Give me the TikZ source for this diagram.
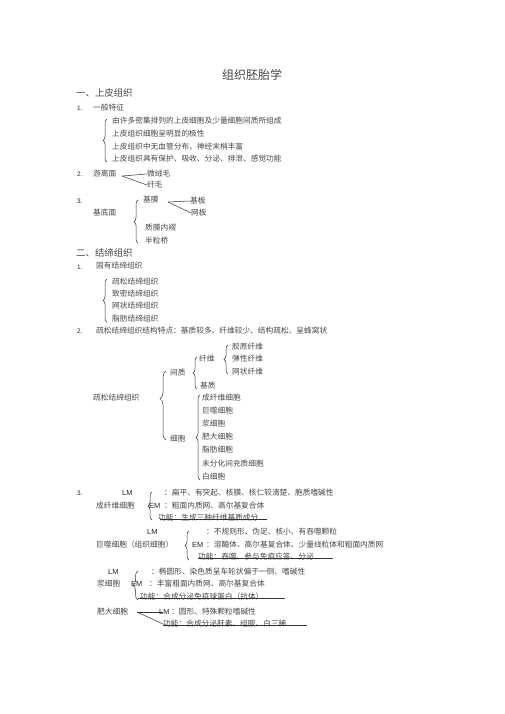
\documentclass[tikz,border=0pt]{standalone}
\usepackage{fontspec}
\setmainfont{Noto Sans CJK SC}
\newfontfamily\latfont{Liberation Sans}
\usetikzlibrary{calc,decorations.pathreplacing}

\tikzset{
	txt/.style={anchor=west, inner sep=0pt, text=black!72, font=\fontsize{7.7}{9}\selectfont},
	head/.style={txt, font=\fontsize{9.4}{11}\selectfont},
	num/.style={anchor=west, inner sep=0pt, text=black!85, font=\latfont\fontsize{6.5}{7}\selectfont},
	lmem/.style={anchor=west, inner sep=0pt, text=black!85, font=\latfont\fontsize{7.4}{8}\selectfont},
	curly/.style={decorate, decoration={brace, amplitude=4pt, aspect=#1}, line width=0.5pt, black!80},
	curly/.default=0.5,
	stroke/.style={line width=0.5pt, black!80}
}

\begin{document}
\begin{tikzpicture}[x=1pt, y=-1pt]
			%%%%% START %%%%%
			\useasboundingbox[fill=white] (0,0) rectangle (505,714);
			
			\node[txt, anchor=center, font=\fontsize{12}{14}\selectfont] (title) at (252,75) {组织胚胎学};
			
			% 一、上皮组织
			\node[head] (sec1) at (76,93) {一、上皮组织};
			\node[num] (n11) at (77,108) {1.};
			\node[txt] (gen) at (93,108) {一般特征};
			\node[txt] (gen1) at (112,121) {由许多密集排列的上皮细胞及少量细胞间质所组成};
			\node[txt] (gen2) at (112,134) {上皮组织细胞呈明显的极性};
			\node[txt] (gen3) at (112,147) {上皮组织中无血管分布，神经末梢丰富};
			\node[txt] (gen4) at (112,159) {上皮组织具有保护、吸收、分泌、排泄、感觉功能};
			\draw[curly] (107,162) -- (107,119);
			
			\node[num] (n12) at (77,174) {2.};
			\node[txt] (free) at (93,174) {游离面};
			\coordinate (freeC) at (122,176);
			\node[txt] (micro) at (147,174) {微绒毛};
			\node[txt] (cilia) at (147,185) {纤毛};
			\draw[stroke] (freeC) -- (micro.west);
			\draw[stroke] (freeC) -- (cilia.west);
			
			\node[num] (n13) at (77,201) {3.};
			\node[txt] (bm) at (143,200) {基膜};
			\coordinate (bmC) at (168,202);
			\node[txt] (bl) at (190,201) {基板};
			\node[txt] (rl) at (191,213) {网板};
			\draw[stroke] (bmC) -- (bl.west);
			\draw[stroke] (bmC) -- (rl.west);
			\node[txt] (base) at (93,213) {基底面};
			\node[txt] (fold) at (145,228) {质膜内褶};
			\node[txt] (hemi) at (145,241) {半粒桥};
			\draw[curly] (138,243) -- (138,200);
			
			% 二、结缔组织
			\node[head] (sec2) at (76,253) {二、结缔组织};
			\node[num] (n21) at (77,267) {1.};
			\node[txt] (prop) at (96,266) {固有结缔组织};
			\node[txt] (prop1) at (112,282) {疏松结缔组织};
			\node[txt] (prop2) at (112,294) {致密结缔组织};
			\node[txt] (prop3) at (112,306) {网状结缔组织};
			\node[txt] (prop4) at (112,319) {脂肪结缔组织};
			\draw[curly] (107,322) -- (107,279);
			
			\node[num] (n22) at (77,331) {2.};
			\node[txt] (loose) at (96,331) {疏松结缔组织结构特点：基质较多、纤维较少、结构疏松、呈蜂窝状};
			
			\node[txt] (lct) at (93,398) {疏松结缔组织};
			\node[txt] (matrix) at (170,373) {间质};
			\node[txt] (cells) at (170,439) {细胞};
			\draw[curly=0.6, decoration={amplitude=6pt}] (166,440) -- (166,371);
			
			\node[txt] (fiber) at (199,359) {纤维};
			\node[txt] (ground) at (200,386) {基质};
			\draw[curly] (197,389) -- (197,357);
			
			\node[txt] (coll) at (232,347) {胶原纤维};
			\node[txt] (elas) at (232,359) {弹性纤维};
			\node[txt] (reti) at (232,372) {网状纤维};
			\draw[curly] (228,374) -- (228,345);
			
			\node[txt] (c1) at (202,398) {成纤维细胞};
			\node[txt] (c2) at (202,411) {巨噬细胞};
			\node[txt] (c3) at (202,424) {浆细胞};
			\node[txt] (c4) at (202,437) {肥大细胞};
			\node[txt] (c5) at (202,450) {脂肪细胞};
			\node[txt] (c6) at (202,464) {未分化间充质细胞};
			\node[txt] (c7) at (202,477) {白细胞};
			\draw[curly] (200,480) -- (200,395);
			
			% 3. 细胞
			\node[num] (n23) at (77,493) {3.};
			\node[lmem] (fLM) at (122,493) {LM};
			\node[txt] (fLMt) at (164,493) {：扁平、有突起、核膜、核仁较清楚、胞质嗜碱性};
			\node[txt] (fib) at (96,506) {成纤维细胞};
			\node[lmem] (fEM) at (149,506) {EM};
			\node[txt] (fEMt) at (164,506) {：粗面内质网、高尔基复合体};
			\node[txt] (fFun) at (158,518) {功能：生成三种纤维基质成分};
			\draw[curly] (152,520) -- (152,492);
			\draw[stroke] ($(fFun.west)+(2,1.5)$) -- ++(107,0);
			
			\node[lmem] (mLM) at (147,532) {LM};
			\node[txt] (mLMt) at (206,532) {：不规则形、伪足、核小、有吞噬颗粒};
			\node[txt] (mac) at (96,545) {巨噬细胞（组织细胞）};
			\node[lmem] (mEM) at (192,545) {EM};
			\node[txt] (mEMt) at (206,545) {：溶酶体、高尔基复合体、少量线粒体和粗面内质网};
			\node[txt] (mFun) at (198,557) {功能：吞噬、参与免疫应答、分泌};
			\draw[curly] (189,560) -- (189,531);
			\draw[stroke] ($(mFun.west)+(0,1.5)$) -- ++(135,0);
			
			\node[lmem] (pLM) at (108,572) {LM};
			\node[txt] (pLMt) at (151,572) {：椭圆形、染色质呈车轮状偏于一侧、嗜碱性};
			\node[txt] (pla) at (97,584) {浆细胞};
			\node[lmem] (pEM) at (131,584) {EM};
			\node[txt] (pEMt) at (149,584) {：丰富粗面内质网、高尔基复合体};
			\node[txt] (pFun) at (140,597) {功能：合成分泌免疫球蛋白（抗体）};
			\draw[curly, decoration={amplitude=5pt}] (138,600) -- (138,571);
			\draw[stroke] ($(pFun.west)+(-2,1.5)$) -- ++(147,0);
			
			\node[txt] (mast) at (97,612) {肥大细胞};
			\coordinate (mastC) at (137,612);
			\node[lmem] (aLM) at (159,612) {LM};
			\node[txt] (aLMt) at (171,612) {：圆形、特殊颗粒嗜碱性};
			\node[txt] (aFun) at (163,624) {功能：合成分泌肝素、组胺、白三稀};
			\draw[stroke] (mastC) -- ($(aLM.west)+(4,0)$);
			\draw[stroke] (mastC) -- (aFun.west);
			\draw[stroke] ($(aFun.west)+(0,1.5)$) -- ++(144,0);
			
			%%%%% END %%%%%
\end{tikzpicture}
\end{document}
